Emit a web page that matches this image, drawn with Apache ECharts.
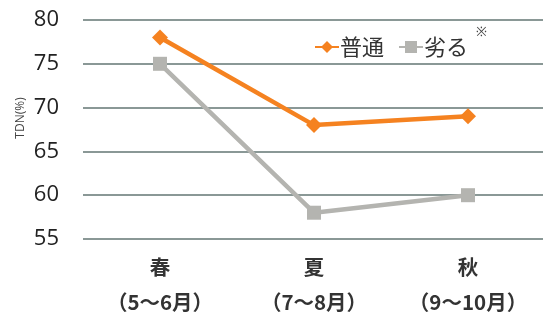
<!DOCTYPE html>
<html>
<head>
<meta charset="utf-8">
<script src="https://cdn.jsdelivr.net/npm/echarts@6/dist/echarts.min.js"></script>
<style>
  html, body { margin: 0; padding: 0; background: #fff; }
  #chart { width: 543px; height: 314px; }
</style>
</head>
<body>
<div id="chart"></div>
<script>
// 季節
const seasons = ['春', '夏', '秋'];
const months = ['（5～6月）', '（7～8月）', '（9～10月）'];
// TDN (%)
const normal = [78, 68, 69];
const poor = [75, 58, 60];

const chart = echarts.init(document.getElementById('chart'));
chart.setOption({
  animation: false,
  textStyle: { fontFamily: 'Noto Sans CJK JP' },
  grid: { left: 83, top: 20, width: 462, height: 219, outerBoundsMode: 'none', containLabel: false },
  legend: {
    left: 309,
    top: 31,
    itemGap: 14,
    itemWidth: 24,
    itemHeight: 15,
    textStyle: { fontSize: 22, color: '#333', padding: [0, 0, 0, -4] },
    data: ['普通', '劣る']
  },
  graphic: [
    {
      type: 'text',
      left: 476,
      top: 26,
      style: { text: '※', fontSize: 13, fill: '#444' }
    },
    {
      type: 'text',
      x: 21,
      y: 118,
      rotation: Math.PI / 2,
      style: {
        text: 'TDN(%)', fontSize: 12, fill: '#444',
        align: 'center', verticalAlign: 'middle', fontFamily: 'Open Sans'
      }
    }
  ],
  xAxis: {
    type: 'category',
    data: seasons,
    axisLine: { show: false },
    axisTick: { show: false },
    axisLabel: {
      interval: 0,
      hideOverlap: false,
      margin: 11,
      lineHeight: 35,
      fontSize: 20.5,
      fontWeight: 'bold',
      color: '#333',
      formatter: (v, i) => v + '\n' + months[i]
    }
  },
  yAxis: {
    type: 'value',
    min: 55,
    max: 80,
    interval: 5,
    axisLabel: { fontSize: 22, color: '#222', margin: 24, fontFamily: 'Open Sans' },
    splitLine: { lineStyle: { color: '#8a9896', width: 2 } }
  },
  series: [
    {
      name: '普通',
      type: 'line',
      data: normal,
      symbol: 'diamond',
      symbolSize: 16,
      lineStyle: { width: 4.5, color: '#f58220' },
      itemStyle: { color: '#f58220' }
    },
    {
      name: '劣る',
      type: 'line',
      data: poor,
      symbol: 'rect',
      symbolSize: 14,
      lineStyle: { width: 4.5, color: '#b4b4b0' },
      itemStyle: { color: '#b4b4b0' }
    }
  ]
});
</script>
</body>
</html>
